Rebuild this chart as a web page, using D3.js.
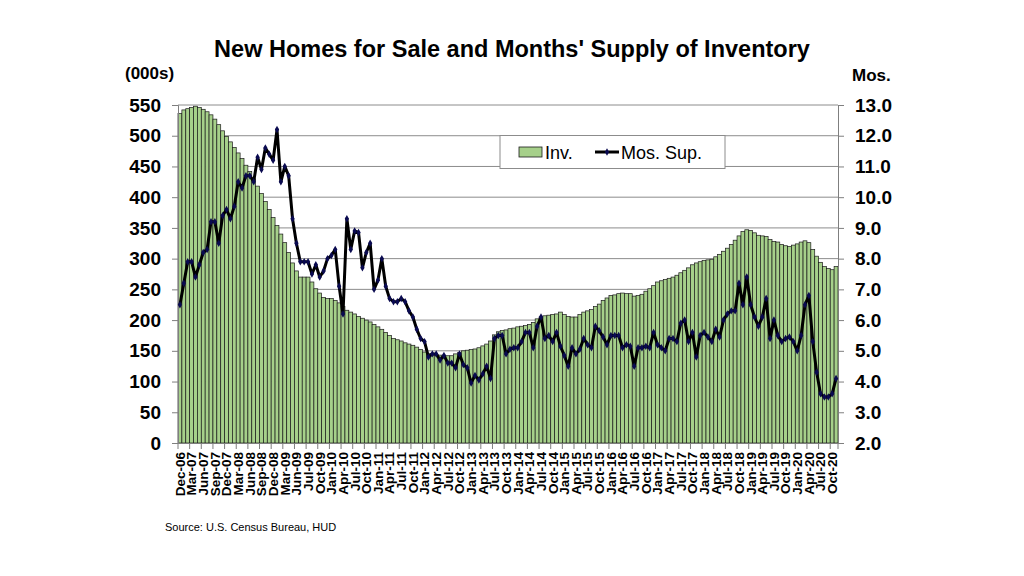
<!DOCTYPE html>
<html>
<head>
  <meta charset="utf-8">
  <title>New Homes for Sale</title>
  <script type="text/javascript" src="https://cdn.jsdelivr.net/npm/d3@7"></script>
  <style>
    body { margin: 0; background: #fff; }
    text { font-family: "Liberation Sans", Arial, sans-serif; }
  </style>
</head>
<body>
<script type="text/javascript">

// months as they appear in the source table (Jul-09 is repeated three times there)
const months = [
  "Dec-06",
  "Jan-07","Feb-07","Mar-07","Apr-07","May-07","Jun-07","Jul-07","Aug-07","Sep-07","Oct-07","Nov-07","Dec-07",
  "Jan-08","Feb-08","Mar-08","Apr-08","May-08","Jun-08","Jul-08","Aug-08","Sep-08","Oct-08","Nov-08","Dec-08",
  "Jan-09","Feb-09","Mar-09","Apr-09","May-09","Jun-09","Jul-09","Jul-09","Jul-09","Aug-09","Sep-09","Oct-09","Nov-09","Dec-09",
  "Jan-10","Feb-10","Mar-10","Apr-10","May-10","Jun-10","Jul-10","Aug-10","Sep-10","Oct-10","Nov-10","Dec-10",
  "Jan-11","Feb-11","Mar-11","Apr-11","May-11","Jun-11","Jul-11","Aug-11","Sep-11","Oct-11","Nov-11","Dec-11",
  "Jan-12","Feb-12","Mar-12","Apr-12","May-12","Jun-12","Jul-12","Aug-12","Sep-12","Oct-12","Nov-12","Dec-12",
  "Jan-13","Feb-13","Mar-13","Apr-13","May-13","Jun-13","Jul-13","Aug-13","Sep-13","Oct-13","Nov-13","Dec-13",
  "Jan-14","Feb-14","Mar-14","Apr-14","May-14","Jun-14","Jul-14","Aug-14","Sep-14","Oct-14","Nov-14","Dec-14",
  "Jan-15","Feb-15","Mar-15","Apr-15","May-15","Jun-15","Jul-15","Aug-15","Sep-15","Oct-15","Nov-15","Dec-15",
  "Jan-16","Feb-16","Mar-16","Apr-16","May-16","Jun-16","Jul-16","Aug-16","Sep-16","Oct-16","Nov-16","Dec-16",
  "Jan-17","Feb-17","Mar-17","Apr-17","May-17","Jun-17","Jul-17","Aug-17","Sep-17","Oct-17","Nov-17","Dec-17",
  "Jan-18","Feb-18","Mar-18","Apr-18","May-18","Jun-18","Jul-18","Aug-18","Sep-18","Oct-18","Nov-18","Dec-18",
  "Jan-19","Feb-19","Mar-19","Apr-19","May-19","Jun-19","Jul-19","Aug-19","Sep-19","Oct-19","Nov-19","Dec-19",
  "Jan-20","Feb-20","Mar-20","Apr-20","May-20","Jun-20","Jul-20","Aug-20","Sep-20","Oct-20","Nov-20"
];

// new homes for sale, thousands
const inventory = [
  536,
  542, 544, 546, 548, 546, 543, 539, 534, 527, 518, 508, 499,
  490, 481, 472, 463, 452, 442, 430, 418, 406, 393, 380, 367,
  354, 340, 326, 310, 293, 280, 270, 270, 270, 262, 251, 244, 237, 235,
  235, 232, 228, 222, 216, 213, 210, 206, 203, 200, 197, 193,
  189, 185, 180, 175, 170, 168, 166, 163, 161, 159, 156, 152,
  148, 146, 145, 144, 143, 142, 142, 142, 145, 147, 150, 151,
  152, 153, 155, 158, 161, 166, 176, 181, 183, 184, 186, 187,
  189, 190, 191, 193, 196, 202, 205, 207, 208, 209, 210, 213,
  209, 206, 205, 205, 209, 213, 215, 217, 222, 226, 232, 236,
  240, 241, 243, 244, 243, 243, 239, 240, 242, 247, 251, 256,
  262, 264, 266, 268, 270, 273, 277, 281, 285, 290, 293, 295,
  297, 298, 299, 303, 307, 312, 317, 323, 330, 337, 344, 347,
  346, 342, 338, 337, 336, 331, 328, 327, 323, 321, 320, 322,
  324, 327, 329, 326, 315, 304, 294, 287, 284, 282, 287
];

// months' supply
const supply = [
  6.5,
  7.2, 7.9, 7.9, 7.4, 7.8, 8.2, 8.3, 9.2, 9.2, 8.5, 9.4, 9.6,
  9.3, 9.7, 10.5, 10.3, 10.7, 10.7, 10.5, 11.3, 10.9, 11.6, 11.4, 11.2,
  12.2, 10.5, 11.0, 10.7, 9.3, 8.5, 7.9, 7.9, 7.9, 7.5, 7.8, 7.4, 7.6, 8.0,
  8.1, 8.3, 7.1, 6.2, 9.3, 8.3, 8.9, 8.85, 7.7, 8.2, 8.5, 7.0,
  7.3, 8.0, 7.1, 6.7, 6.6, 6.6, 6.7, 6.6, 6.3, 6.1, 5.7, 5.4,
  5.3, 4.8, 4.9, 4.9, 4.7, 4.85, 4.6, 4.6, 4.45, 4.9, 4.55, 4.45,
  3.95, 4.2, 4.05, 4.25, 4.5, 4.1, 5.4, 5.5, 5.5, 4.9, 5.05, 5.1,
  5.1, 5.3, 5.6, 5.6, 5.1, 5.8, 6.1, 5.4, 5.5, 5.3, 5.6, 5.15,
  4.85, 4.5, 5.1, 4.9, 5.05, 5.4, 5.2, 5.1, 5.8, 5.65, 5.45, 5.2,
  5.5, 5.5, 5.5, 5.1, 5.2, 5.15, 4.5, 5.1, 5.1, 5.15, 5.1, 5.6,
  5.2, 5.1, 5.0, 5.4, 5.4, 5.3, 5.9, 6.0, 5.3, 5.6, 4.8, 5.5,
  5.6, 5.45, 5.3, 5.7, 5.45, 6.0, 6.2, 6.3, 6.3, 7.2, 6.5, 7.4,
  6.5, 6.1, 5.8, 6.1, 6.7, 5.4, 6.0, 5.5, 5.3, 5.4, 5.45, 5.3,
  5.0, 5.5, 6.5, 6.8, 5.3, 4.3, 3.6, 3.5, 3.5, 3.6, 4.1
];

const leftTicks = [0, 50, 100, 150, 200, 250, 300, 350, 400, 450, 500, 550];
const rightTicks = [2, 3, 4, 5, 6, 7, 8, 9, 10, 11, 12, 13];
const labelStep = 3;

const W = 1024, H = 576;
const plot = { left: 178, right: 838, top: 105, bottom: 443 };

const svg = d3.select("body")
  .append("svg")
  .attr("width", W)
  .attr("height", H);

const x = d3.scaleBand()
  .domain(d3.range(months.length))
  .range([plot.left, plot.right])
  .padding(0);

const yL = d3.scaleLinear().domain([0, 550]).range([plot.bottom, plot.top]);
const yR = d3.scaleLinear().domain([2, 13]).range([plot.bottom, plot.top]);

// gridlines
svg.append("g")
  .selectAll("line")
  .data(leftTicks.slice(1))
  .enter()
  .append("line")
  .attr("x1", plot.left)
  .attr("x2", plot.right)
  .attr("y1", d => yL(d))
  .attr("y2", d => yL(d))
  .attr("stroke", "#8c8c8c")
  .attr("stroke-width", 1);

// bars
svg.append("g")
  .selectAll("rect")
  .data(inventory)
  .enter()
  .append("rect")
  .attr("x", (d, i) => x(i))
  .attr("y", d => yL(d))
  .attr("width", x.bandwidth())
  .attr("height", d => yL(0) - yL(d))
  .attr("fill", "#a6d08a")
  .attr("stroke", "#1a1a1a")
  .attr("stroke-width", 0.7);

// left axis
const axL = svg.append("g")
  .attr("transform", "translate(" + plot.left + ",0)")
  .call(d3.axisLeft(yL).tickValues(leftTicks).tickSize(6).tickPadding(11));
axL.selectAll("text")
  .attr("font-size", 19).attr("font-weight", "bold").attr("fill", "#000")
  .attr("font-family", "Liberation Sans, Arial, sans-serif");

// right axis
const axR = svg.append("g")
  .attr("transform", "translate(" + plot.right + ",0)")
  .call(d3.axisRight(yR).tickValues(rightTicks).tickSize(6).tickPadding(11)
    .tickFormat(d3.format(".1f")));
axR.selectAll("text")
  .attr("font-size", 19).attr("font-weight", "bold").attr("fill", "#000")
  .attr("font-family", "Liberation Sans, Arial, sans-serif");

[axL, axR].forEach(a => {
  a.select(".domain").attr("stroke", "#7f7f7f");
  a.selectAll(".tick line").attr("stroke", "#7f7f7f");
});

// bottom axis: labels centred on every third month, ticks on the band edge
const tickIdx = d3.range(0, months.length, labelStep);
const axB = svg.append("g")
  .attr("transform", "translate(0," + plot.bottom + ")")
  .call(d3.axisBottom(x).tickValues(tickIdx).tickSize(0).tickFormat(i => months[i]));
axB.select(".domain").attr("stroke", "#7f7f7f");
axB.selectAll("text")
  .attr("transform", "rotate(-90)")
  .attr("text-anchor", "end")
  .attr("x", -9)
  .attr("y", 0)
  .attr("dy", "0.36em")
  .attr("font-size", 13.5)
  .attr("font-weight", "bold")
  .attr("fill", "#000")
  .attr("font-family", "Liberation Sans, Arial, sans-serif");
svg.append("g")
  .selectAll("line")
  .data(tickIdx.concat([months.length]))
  .enter()
  .append("line")
  .attr("x1", i => i < months.length ? x(i) : plot.right)
  .attr("x2", i => i < months.length ? x(i) : plot.right)
  .attr("y1", plot.bottom)
  .attr("y2", plot.bottom + 6)
  .attr("stroke", "#7f7f7f");

// months' supply line
const line = d3.line()
  .x((d, i) => x(i) + x.bandwidth() / 2)
  .y(d => yR(d));

svg.append("path")
  .datum(supply)
  .attr("d", line)
  .attr("fill", "none")
  .attr("stroke", "#000")
  .attr("stroke-width", 3)
  .attr("stroke-linejoin", "round");

svg.append("g")
  .selectAll("path")
  .data(supply)
  .enter()
  .append("path")
  .attr("d", d3.symbol(d3.symbolDiamond, 16))
  .attr("transform", (d, i) => "translate(" + (x(i) + x.bandwidth() / 2) + "," + yR(d) + ")")
  .attr("fill", "#0a0a50");

// titles
svg.append("text")
  .attr("x", 512).attr("y", 57)
  .attr("text-anchor", "middle")
  .attr("font-size", 23.5).attr("font-weight", "bold")
  .text("New Homes for Sale and Months' Supply of Inventory");

svg.append("text")
  .attr("x", 125).attr("y", 79)
  .attr("font-size", 17).attr("font-weight", "bold")
  .text("(000s)");

svg.append("text")
  .attr("x", 852).attr("y", 81)
  .attr("font-size", 17).attr("font-weight", "bold")
  .text("Mos.");

// legend
const lg = svg.append("g");
lg.append("rect")
  .attr("x", 500).attr("y", 135.5)
  .attr("width", 225).attr("height", 33)
  .attr("fill", "#fff")
  .attr("stroke", "#8c8c8c");
lg.append("rect")
  .attr("x", 519).attr("y", 147)
  .attr("width", 23).attr("height", 10)
  .attr("fill", "#a6d08a").attr("stroke", "#1a1a1a").attr("stroke-width", 0.8);
lg.append("text")
  .attr("x", 545).attr("y", 158.5)
  .attr("font-size", 18)
  .text("Inv.");
lg.append("line")
  .attr("x1", 595).attr("x2", 619)
  .attr("y1", 152).attr("y2", 152)
  .attr("stroke", "#000").attr("stroke-width", 3);
lg.append("path")
  .attr("d", d3.symbol(d3.symbolDiamond, 16))
  .attr("transform", "translate(607,152)")
  .attr("fill", "#0a0a50");
lg.append("text")
  .attr("x", 621).attr("y", 158.5)
  .attr("font-size", 18)
  .text("Mos. Sup.");

// source
svg.append("text")
  .attr("x", 165).attr("y", 531)
  .attr("font-size", 11)
  .attr("font-family", "Open Sans, sans-serif")
  .text("Source:  U.S. Census Bureau, HUD");

</script>
</body>
</html>
